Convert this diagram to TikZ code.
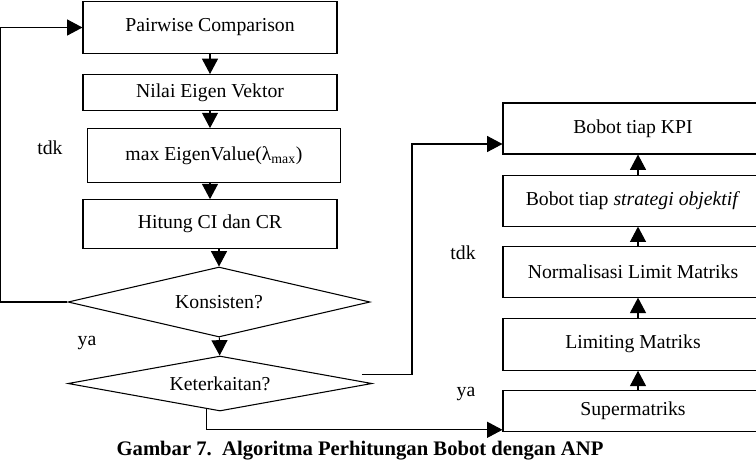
\documentclass[tikz,border=0pt]{standalone}
\usepackage{fontspec}
\setmainfont{Liberation Serif}
\usepackage{tikz}
\usetikzlibrary{positioning,arrows.meta,shapes.geometric}

\tikzset{
  box/.style={draw,line width=0.8pt,minimum width=190.5pt,inner sep=0pt},
  rbox/.style={draw,line width=0.8pt,minimum width=195pt,inner sep=0pt},
  cek/.style={diamond,draw,line width=0.8pt,inner sep=0pt},
  arr/.style={line width=0.8pt,-{Triangle[width=12pt,length=11.5pt]}},
  lbl/.style={inner sep=0pt},
}

\begin{document}
\begin{tikzpicture}[x=0.75pt,y=-0.75pt,font=\fontsize{14.8}{17}\selectfont]
\useasboundingbox (0,0) rectangle (756,462);
% kolom kiri
\node[box,minimum height=39pt] (pc) at (210,27.5) {Pairwise Comparison};
\node[box,minimum height=27pt,below=15pt of pc] (nev) {Nilai Eigen Vektor};
\node[box,minimum height=40.5pt,minimum width=189.75pt,below=12.75pt of nev,xshift=3pt] (mev)
  {max EigenValue(λ\textsubscript{max})};
\node[box,minimum height=36.75pt,below=12pt of mev,xshift=-3pt] (hit) {Hitung CI dan CR};
\node[cek,aspect=4.3,minimum width=226.5pt,minimum height=52.5pt] (kons) at (219,302) {Konsisten?};
\node[cek,aspect=5.5,minimum width=228pt,minimum height=41.25pt] (ket) at (220,383.5) {Keterkaitan?};

% kolom kanan
\node[rbox,minimum height=38.25pt] (kpi) at (633,128.5) {Bobot tiap KPI};
\node[rbox,minimum height=38.25pt,below=15pt of kpi] (sob) {Bobot tiap \textit{strategi objektif}};
\node[rbox,minimum height=38.25pt,below=14.25pt of sob] (nlm) {Normalisasi Limit Matriks};
\node[rbox,minimum height=39pt,below=15pt of nlm] (lm) {Limiting Matriks};
\node[rbox,minimum height=30.75pt,below=14.25pt of lm] (sm) {Supermatriks};

% label
\node[lbl] (tdk1) at (50,148) {tdk};
\node[lbl] (ya1) at (87,343) {ya};
\node[lbl] (tdk2) at (463,253) {tdk};
\node[lbl] (ya2) at (466,394) {ya};
\node[lbl,font=\fontsize{15.5}{18}\selectfont\bfseries] (cap) at (360,451)
  {Gambar 7.\ \ Algoritma Perhitungan Bobot dengan ANP};

% panah
\draw[arr] (pc) -- (nev);
\draw[arr] (nev) -- (mev.north -| nev.south);
\draw[arr] (mev.south -| hit.north) -- (hit);
\draw[arr] (kons.north |- hit.south) -- (kons);
\draw[arr] (kons) -- (ket);
\coordinate (lp) at (0,302);
\draw[arr] (kons.west) -- (lp) |- (pc.west);
\coordinate (jt) at (412,144);
\draw[arr] ([shift={(-8pt,7pt)}]ket.east) -| (jt) -- (jt -| kpi.west);
\draw[arr] ([xshift=-10pt,yshift=2pt]ket.south) |- ([yshift=1.5pt]sm.south west);
\draw[arr] ([xshift=3.75pt]sm.north) -- ([xshift=3.75pt]lm.south);
\draw[arr] ([xshift=3.75pt]lm.north) -- ([xshift=3.75pt]nlm.south);
\draw[arr] ([xshift=3.75pt]nlm.north) -- ([xshift=3.75pt]sob.south);
\draw[arr] ([xshift=3.75pt]sob.north) -- ([xshift=3.75pt]kpi.south);
\end{tikzpicture}
\end{document}
